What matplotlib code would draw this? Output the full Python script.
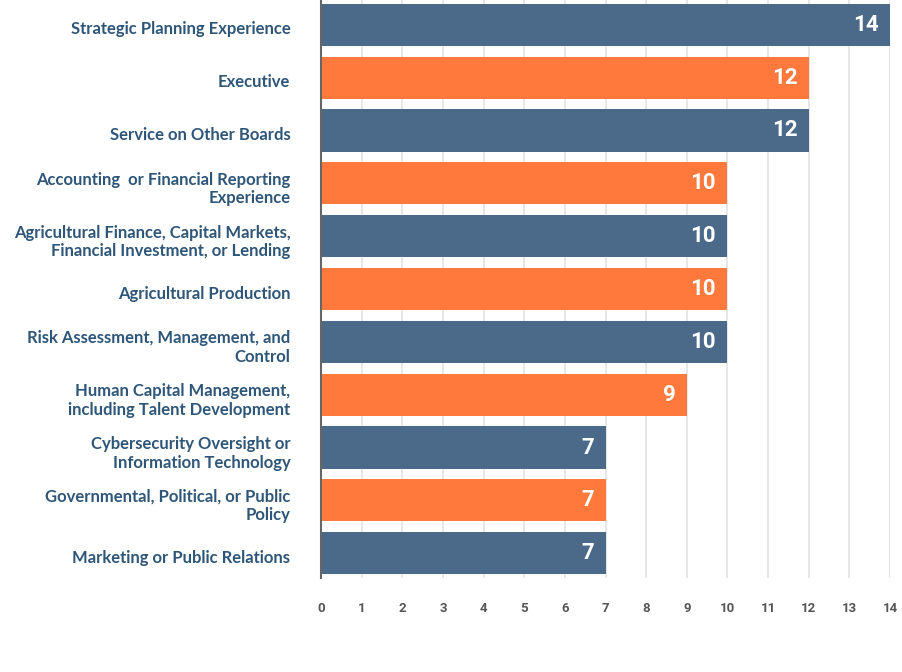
import matplotlib.pyplot as plt
from matplotlib.transforms import ScaledTranslation

categories = [
    "Strategic Planning Experience",
    "Executive",
    "Service on Other Boards",
    "Accounting  or Financial Reporting\nExperience",
    "Agricultural Finance, Capital Markets,\nFinancial Investment, or Lending",
    "Agricultural Production",
    "Risk Assessment, Management, and\nControl",
    "Human Capital Management,\nincluding Talent Development",
    "Cybersecurity Oversight or\nInformation Technology",
    "Governmental, Political, or Public\nPolicy",
    "Marketing or Public Relations",
]
values = [14, 12, 12, 10, 10, 10, 10, 9, 7, 7, 7]
ticks = list(range(0, 15))

blue = "#4b6a8a"
orange = "#ff783c"
colors = [blue if i % 2 == 0 else orange for i in range(len(values))]

fig = plt.figure(figsize=(9.02, 6.72), dpi=100)
ax = fig.add_axes([321 / 902, 94 / 672, 569 / 902, 578 / 672])

pos = list(range(len(values)))
ax.barh(pos, values, height=0.8, color=colors, zorder=3)

for p, v in zip(pos, values):
    ax.text(v - 0.28, p, str(v), ha="right", va="center", color="white",
            fontsize=16, fontweight="bold", family="Roboto", zorder=4)

ax.set_xlim(0, 14)
ax.set_ylim(10.47, -0.47)
ax.set_xticks(ticks)
ax.set_xticklabels([str(t) for t in ticks], fontsize=9.5, fontweight="bold",
                   family="Roboto", color="#555555")
ax.tick_params(axis="x", length=0, pad=17)
ax.set_yticks(pos)
ax.set_yticklabels(categories, fontsize=12, fontweight="bold", family="Lato",
                   color="#2e5679", linespacing=1.2)
ax.tick_params(axis="y", length=0, pad=22)
# nudge category labels down a touch
shift = ScaledTranslation(0, -3 / 100, fig.dpi_scale_trans)
for lab in ax.get_yticklabels():
    lab.set_horizontalalignment("right")
    lab.set_multialignment("right")
    lab.set_transform(lab.get_transform() + shift)

ax.grid(axis="x", color="#e3e3e3", linewidth=1.2, zorder=0)
for s in ["top", "right", "bottom"]:
    ax.spines[s].set_visible(False)
ax.spines["left"].set_color("#666666")
ax.spines["left"].set_linewidth(1.5)
ax.spines["left"].set_zorder(5)

plt.savefig("out.png", dpi=100)
